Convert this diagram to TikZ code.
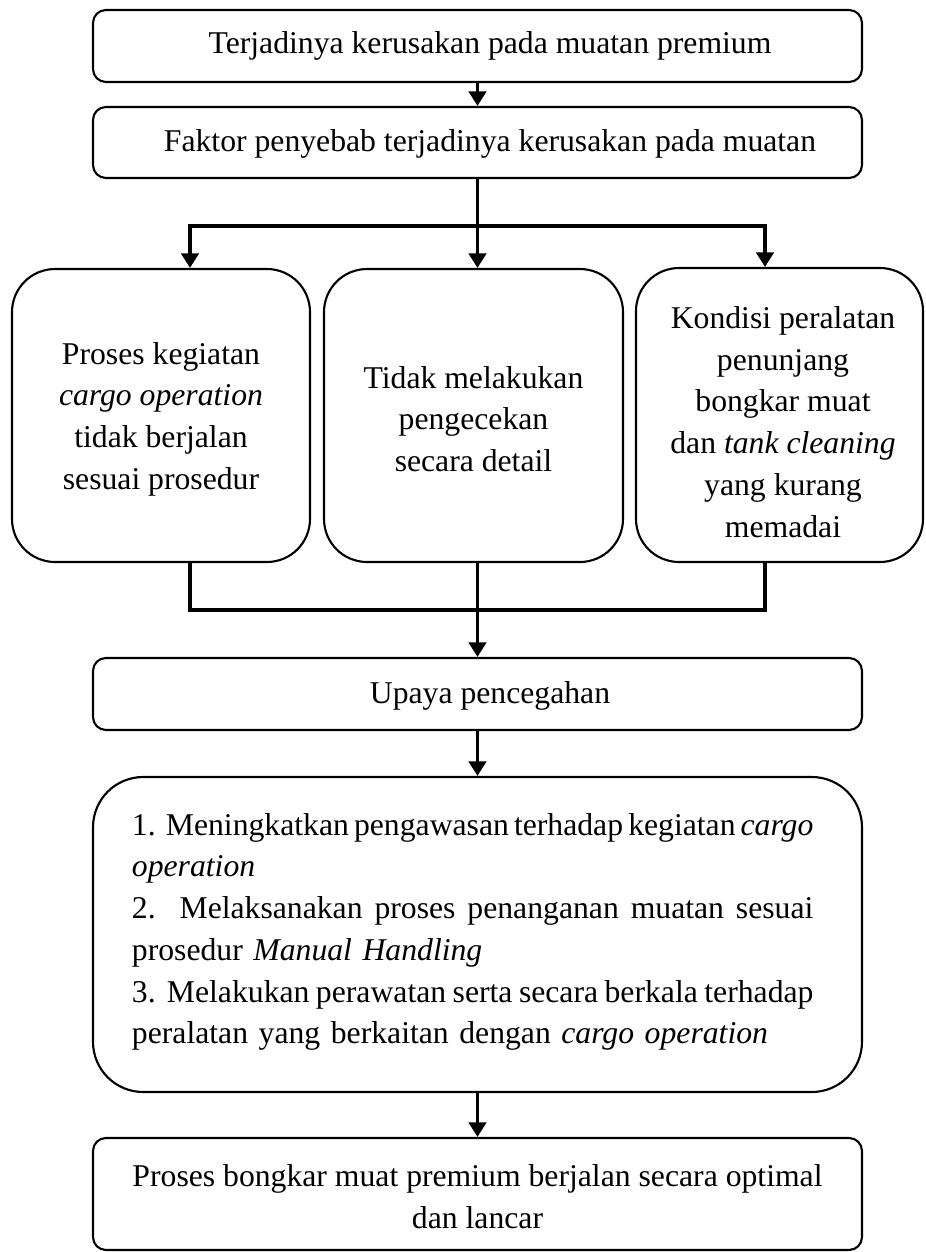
\documentclass[tikz,border=0pt]{standalone}
\usepackage{fontspec}
\setmainfont{Liberation Serif}
\usetikzlibrary{arrows.meta,fit}
\newcommand{\jline}[1]{\leavevmode\hbox to 258pt{\spaceskip=0.25em plus 1em minus 0.15em\relax\xspaceskip=0.4em plus 1em minus 0.15em\relax #1}}
\begin{document}
\begin{tikzpicture}[x=0.3786pt,y=-0.3786pt,
  font=\fontsize{12}{15.8}\selectfont,
  box/.style={draw, line width=0.8pt, inner sep=0pt, rounded corners=4.9pt},
  midbox/.style={box, rounded corners=16.3pt},
  bigbox/.style={box, rounded corners=19pt},
  txt/.style={inner sep=0pt, align=center},
  conn/.style={line width=1.5pt, line cap=rect},
  arr/.style={line width=1.5pt, -{Triangle[length=5.5pt,width=6.5pt]}}]
\useasboundingbox (0,0) rectangle (925,1252);

% boxes
\node[box, fit={(93,10)(862,82)}] (b1) {};
\node[txt] (t1) at (490,46) {Terjadinya kerusakan pada muatan premium};
\node[box, fit={(93,107)(862,178)}] (b2) {};
\node[txt] (t2) at (490,144) {Faktor penyebab terjadinya kerusakan pada muatan};

\node[midbox, fit={(12,269)(310,562)}] (lb) {};
\node[txt] (tl) at (161,419) {Proses kegiatan\\\textit{cargo operation}\\tidak berjalan\\sesuai prosedur};
\node[midbox, fit={(324,269)(623,562)}] (mb) {};
\node[txt] (tm) at (473.5,419) {Tidak melakukan\\pengecekan\\secara detail};
\node[midbox, fit={(636,268)(923,562)}] (rb) {};
\node[txt] (tr) at (783,422) {Kondisi peralatan\\penunjang\\bongkar muat\\dan \textit{tank cleaning}\\yang kurang\\memadai};

\node[box, fit={(93,658)(862,730)}] (up) {};
\node[txt] (tu) at (490,696) {Upaya pencegahan};

\node[bigbox, fit={(93,777)(862,1092)}] (big) {};
\node[inner sep=0pt, text width=258pt, align=left] (tb) at (472.7,932) {%
\jline{1.\ \ Meningkatkan pengawasan terhadap kegiatan \textit{cargo}}\\
\textit{operation}\\
\jline{2.\ \ Melaksanakan proses penanganan muatan sesuai}\\
prosedur \textit{Manual Handling}\\
\jline{3. Melakukan perawatan serta secara berkala terhadap}\\
peralatan yang berkaitan dengan \textit{cargo operation}};

\node[box, fit={(93,1138)(862,1250)}] (fin) {};
\node[txt] (tf) at (477.5,1197) {Proses bongkar muat premium berjalan secara optimal\\dan lancar};

% junction coordinates
\coordinate (j1) at (477.5,226);
\coordinate (jl) at (190,226);
\coordinate (jr) at (765,226);
\coordinate (bl) at (190,610);
\coordinate (br) at (765,610);

% connectors
\draw[arr] (b1.south) -- (b2.north);
\draw[conn] (b2.south) -- (j1);
\draw[conn] (jl) -- (jr);
\draw[arr] (jl) -- (jl |- lb.north);
\draw[arr] (j1) -- (j1 |- mb.north);
\draw[arr] (jr) -- (jr |- rb.north);
\draw[conn] (jl |- lb.south) -- (bl) -- (br) -- (jr |- rb.south);
\draw[arr] (up.north |- mb.south) -- (up.north);
\draw[arr] (up.south) -- (big.north);
\draw[arr] (big.south) -- (fin.north);
\end{tikzpicture}
\end{document}
